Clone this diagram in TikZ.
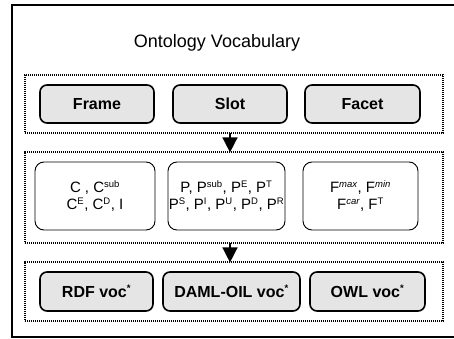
\documentclass[tikz,border=0pt]{standalone}
\usepackage{fontspec}
\setmainfont{Liberation Sans}
\usetikzlibrary{arrows.meta}
\tikzset{
  x=1pt, y=-1pt,
  group/.style={draw, line width=1.2pt, dash pattern=on 1.1pt off 0.9pt, inner sep=0pt},
  graybox/.style={draw, line width=1.6pt, rounded corners=7pt, fill=black!10, inner sep=0pt,
    font=\fontsize{16}{18}\selectfont\bfseries},
  whitebox/.style={draw, line width=0.9pt, rounded corners=9pt, fill=white, inner sep=0pt,
    align=center, font=\fontsize{15}{17.5}\selectfont},
  flow/.style={line width=1.6pt, -{Triangle[width=15pt,length=15pt]}, shorten <=-1pt, shorten >=-1pt}
}
\newcommand{\sps}[1]{\textsuperscript{\fontsize{9.5}{9.5}\selectfont #1}}
\newcommand{\spi}[1]{\textsuperscript{\fontsize{9.5}{9.5}\selectfont\itshape #1}}
\begin{document}
\begin{tikzpicture}
\useasboundingbox (0,0) rectangle (454,339);
% outer frame (right side cut off)
\draw[line width=1.4pt] (454,5) -- (12,5) -- (12,337) -- (454,337);
\node (title) at (217,43) {\fontsize{18}{20}\selectfont Ontology Vocabulary};
% groups
\node[group, minimum width=418pt, minimum height=58pt] (g1) at (234,104) {};
\node[group, minimum width=418pt, minimum height=91pt] (g2) at (234,197.5) {};
\node[group, minimum width=418pt, minimum height=59pt] (g3) at (234,291.5) {};
% row 1
\node[graybox, minimum width=114pt, minimum height=38pt] (frame) at (97,104) {Frame};
\node[graybox, minimum width=114pt, minimum height=38pt] (slot) at (230,104) {Slot};
\node[graybox, minimum width=115pt, minimum height=38pt] (facet) at (362.5,104) {Facet};
% row 2
\node[whitebox, minimum width=120pt, minimum height=68pt] (cbox) at (95,196)
  {C , C\sps{sub}\\C\sps{E}, C\sps{D}, I};
\node[whitebox, minimum width=117pt, minimum height=68pt] (pbox) at (226.5,196)
  {P, P\sps{sub}, P\sps{E}, P\sps{T}\\P\sps{S}, P\sps{I}, P\sps{U}, P\sps{D}, P\sps{R}};
\node[whitebox, minimum width=115pt, minimum height=68pt] (fbox) at (360.5,196)
  {F\spi{max}, F\spi{min}\\F\spi{car}, F\sps{T}};
% row 3
\node[graybox, minimum width=113pt, minimum height=39pt] (rdf) at (96.5,291.5) {RDF voc\sps{*}};
\node[graybox, minimum width=137pt, minimum height=39pt] (daml) at (231.5,291.5) {DAML-OIL voc\sps{*}};
\node[graybox, minimum width=115pt, minimum height=39pt] (owl) at (367.5,291.5) {OWL voc\sps{*}};
% arrows
\coordinate (a1s) at (g1.south -| 230,0);
\coordinate (a1e) at (g2.north -| 230,0);
\coordinate (a2s) at (g2.south -| 230,0);
\coordinate (a2e) at (g3.north -| 230,0);
\draw[flow] (a1s) -- (a1e);
\draw[flow] (a2s) -- (a2e);
\end{tikzpicture}
\end{document}
